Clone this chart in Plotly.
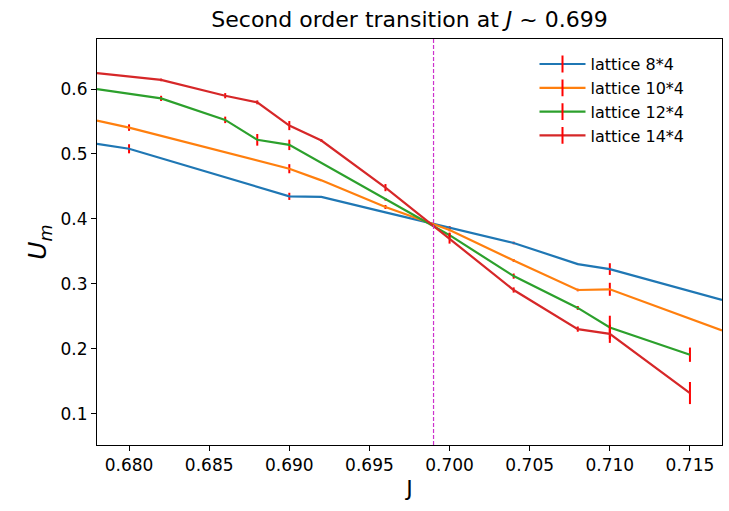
import plotly.graph_objects as go

# ---------------- data ----------------
J_8 = [0.678, 0.680, 0.690, 0.692, 0.696, 0.700, 0.704, 0.708, 0.710, 0.717]
U_8 = [0.5156, 0.508, 0.4348, 0.434, 0.410, 0.387, 0.363, 0.3305, 0.3228, 0.2753]
E_8 = [0.0, 0.007, 0.0055, 0.0, 0.0, 0.002, 0.002, 0.001, 0.009, 0.0]

J_10 = [0.678, 0.680, 0.690, 0.692, 0.696, 0.700, 0.704, 0.708, 0.710, 0.717]
U_10 = [0.5514, 0.5406, 0.4773, 0.4594, 0.4184, 0.383, 0.336, 0.2906, 0.2917, 0.2282]
E_10 = [0.0, 0.005, 0.007, 0.0, 0.003, 0.002, 0.002, 0.002, 0.010, 0.0]

J_12 = [0.678, 0.682, 0.686, 0.688, 0.690, 0.696, 0.700, 0.704, 0.708, 0.710, 0.715]
U_12 = [0.600, 0.5856, 0.5525, 0.5218, 0.514, 0.4302, 0.375, 0.312, 0.263, 0.233, 0.191]
E_12 = [0.0, 0.004, 0.005, 0.009, 0.008, 0.002, 0.004, 0.004, 0.003, 0.018, 0.011]

J_14 = [0.678, 0.682, 0.686, 0.688, 0.690, 0.692, 0.696, 0.700, 0.704, 0.708, 0.710, 0.715]
U_14 = [0.6245, 0.614, 0.5897, 0.5795, 0.5437, 0.5207, 0.4482, 0.370, 0.2906, 0.2304, 0.2232, 0.132]
E_14 = [0.0, 0.002, 0.004, 0.003, 0.007, 0.002, 0.0055, 0.008, 0.004, 0.004, 0.014, 0.017]

SERIES = [
    ("lattice 8*4", J_8, U_8, E_8, "#1f77b4"),
    ("lattice 10*4", J_10, U_10, E_10, "#ff7f0e"),
    ("lattice 12*4", J_12, U_12, E_12, "#2ca02c"),
    ("lattice 14*4", J_14, U_14, E_14, "#d62728"),
]

J_CRIT = 0.699
X_RANGE = [0.678, 0.717]
Y_RANGE = [0.052, 0.677]
X_TICKS = [0.680, 0.685, 0.690, 0.695, 0.700, 0.705, 0.710, 0.715]
Y_TICKS = [0.1, 0.2, 0.3, 0.4, 0.5, 0.6]

FONT = "DejaVu Sans"
fig = go.Figure()

for name, xs, ys, es, col in SERIES:
    fig.add_trace(go.Scatter(
        x=xs, y=ys, mode="lines", name=name, legendgroup=name, showlegend=False,
        line=dict(color=col, width=2.2),
        error_y=dict(type="data", array=es, visible=True, color="#ff0000",
                     thickness=2, width=0),
    ))

# legend proxies (line with a red vertical tick, like matplotlib errorbar)
for name, xs, ys, es, col in SERIES:
    fig.add_trace(go.Scatter(
        x=[None], y=[None], mode="lines+markers", name=name, legendgroup=name,
        line=dict(color=col, width=2.2),
        marker=dict(symbol="line-ns", size=12, line=dict(color="#ff0000", width=2)),
    ))

fig.add_shape(type="line", xref="x", yref="paper", x0=J_CRIT, x1=J_CRIT, y0=0, y1=1,
              layer="above",
              line=dict(color="#cc33cc", width=1.2, dash="4px,2px"))

axis_common = dict(
    showline=True, mirror=True, linecolor="black", linewidth=1,
    ticks="outside", ticklen=5, tickwidth=1, tickcolor="black",
    showgrid=False, zeroline=False,
    tickfont=dict(family=FONT, size=17, color="black"),
)

fig.update_xaxes(range=X_RANGE, tickvals=X_TICKS, tickformat=".3f",
                 title=dict(text="J", font=dict(family=FONT, size=22, color="black"), standoff=6),
                 **axis_common)
fig.update_yaxes(range=Y_RANGE, tickvals=Y_TICKS, tickformat=".1f",
                 title=dict(text="<i>U</i><sub><i>m</i></sub>",
                            font=dict(family=FONT, size=25, color="black"), standoff=6),
                 **axis_common)

fig.update_layout(
    width=729, height=511,
    margin=dict(l=97, r=7, t=39, b=66),
    paper_bgcolor="white", plot_bgcolor="white",
    title=dict(text="Second order transition at <i>J</i> ~ 0.699",
               font=dict(family=FONT, size=22, color="black"),
               x=(97 + 722) / 2 / 729, xanchor="center", y=1 - 19 / 511, yanchor="middle"),
    legend=dict(x=0.70, xanchor="left", y=0.98, yanchor="top",
                bgcolor="rgba(255,255,255,0)", borderwidth=0,
                font=dict(family=FONT, size=16, color="black"),
                itemwidth=46, tracegroupgap=0),
    showlegend=True,
)

fig.write_html("out.html")
